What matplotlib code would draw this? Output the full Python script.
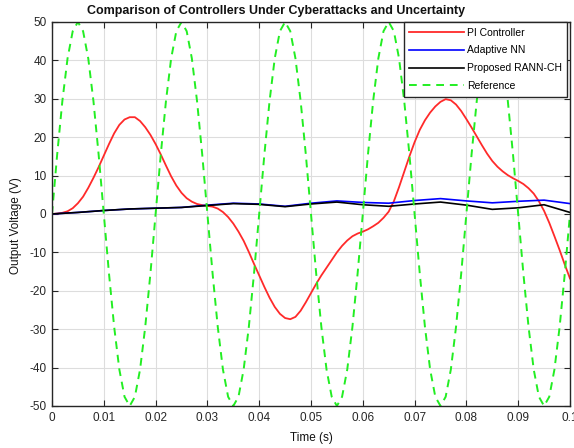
import matplotlib
matplotlib.use("Agg")
import matplotlib.pyplot as plt

plt.rcParams['font.family'] = ['Liberation Sans', 'DejaVu Sans']
plt.rcParams['axes.unicode_minus'] = False

# PI controller, sampled every 1 ms
t_pi = [i * 0.001 for i in range(101)]
pi_vals = [0, 0.1, 0.3, 0.7, 1.5, 2.8, 4.5, 6.8, 9.4, 12.2,
           15.2, 18.2, 21.0, 23.2, 24.6, 25.2, 25.2, 24.2, 22.6, 20.6,
           18.2, 15.5, 12.6, 9.8, 7.4, 5.5, 4.1, 3.2, 2.6, 2.3,
           2.1, 1.9, 1.4, 0.5, -0.8, -2.5, -4.6, -7.0, -9.9, -13.0,
           -16.0, -19.0, -21.8, -24.2, -26.0, -27.1, -27.4, -26.8, -25.2, -23.0,
           -20.6, -18.2, -16.0, -14.0, -12.0, -10.0, -8.3, -6.9, -5.8, -5.1,
           -4.6, -4.0, -3.2, -2.3, -1.0, 0.6, 3.3, 7.0, 11.0, 15.0,
           18.7, 21.9, 24.4, 26.4, 28.0, 29.2, 29.9, 29.6, 28.5, 26.8,
           24.7, 22.5, 20.2, 17.9, 15.7, 13.8, 12.3, 11.1, 10.1, 9.3,
           8.6, 7.8, 6.7, 5.3, 3.3, 0.8, -2.3, -5.8, -9.4, -13.2,
           -16.8]

# Adaptive NN and proposed RANN-CH, sampled every 5 ms
t_nn = [i * 0.005 for i in range(21)]
nn_vals = [0, 0.4, 0.9, 1.3, 1.5, 1.7, 2.3, 2.8, 2.6, 2.0,
           2.8, 3.4, 3.0, 2.8, 3.5, 4.0, 3.4, 2.9, 3.3, 3.6, 2.7]
rann_vals = [0, 0.4, 0.9, 1.3, 1.5, 1.7, 2.2, 2.7, 2.5, 1.9,
             2.6, 3.1, 2.4, 2.0, 2.6, 3.1, 2.3, 1.2, 1.6, 2.4, 0.4]

# Reference, sampled every 1 ms
t_ref = [i * 0.001 for i in range(101)]
ref_vals = [0, 15.5, 29.4, 40.5, 47.6, 50, 47.6, 40.5, 29.4, 15.5, 0, -15.5, -29.4, -40.5, -47.6, -50, -47.6, -40.5, -29.4, -15.5,
            0, 15.5, 29.4, 40.5, 47.6, 50, 47.6, 40.5, 29.4, 15.5, 0, -15.5, -29.4, -40.5, -47.6, -50, -47.6, -40.5, -29.4, -15.5,
            0, 15.5, 29.4, 40.5, 47.6, 50, 47.6, 40.5, 29.4, 15.5, 0, -15.5, -29.4, -40.5, -47.6, -50, -47.6, -40.5, -29.4, -15.5,
            0, 15.5, 29.4, 40.5, 47.6, 50, 47.6, 40.5, 29.4, 15.5, 0, -15.5, -29.4, -40.5, -47.6, -50, -47.6, -40.5, -29.4, -15.5,
            0, 15.5, 29.4, 40.5, 47.6, 50, 47.6, 40.5, 29.4, 15.5, 0, -15.5, -29.4, -40.5, -47.6, -50, -47.6, -40.5, -29.4, -15.5,
            0]

x_ticks = [0, 0.01, 0.02, 0.03, 0.04, 0.05, 0.06, 0.07, 0.08, 0.09, 0.1]
x_tick_labels = ['0', '0.01', '0.02', '0.03', '0.04', '0.05', '0.06', '0.07', '0.08', '0.09', '0.1']
y_ticks = [-50, -40, -30, -20, -10, 0, 10, 20, 30, 40, 50]

fig = plt.figure(figsize=(5.74, 4.48), dpi=100)
ax = fig.add_axes([0.0906, 0.0938, 0.9024, 0.8572])

ax.plot(t_pi, pi_vals, color='#ff2a2a', lw=1.3, label='PI Controller')
ax.plot(t_nn, nn_vals, color='#0000ff', lw=1.2, label='Adaptive NN')
ax.plot(t_nn, rann_vals, color='black', lw=1.2, label='Proposed RANN-CH')
ax.plot(t_ref, ref_vals, color='#22ee22', lw=1.4, ls=(0, (4, 3)), label='Reference')

ax.set_xlim(0, 0.1)
ax.set_ylim(-50, 50)
ax.set_xticks(x_ticks)
ax.set_xticklabels(x_tick_labels)
ax.set_yticks(y_ticks)
ax.grid(True, color='#dddddd', lw=0.8)
ax.set_axisbelow(True)
ax.tick_params(direction='in', top=True, right=True, labelsize=8.5, length=4,
               width=0.8, colors='#262626', pad=4)
for s in ax.spines.values():
    s.set_color('#262626')
    s.set_linewidth(1.0)

fig.text(276 / 574, 1 - 11 / 448,
         'Comparison of Controllers Under Cyberattacks and Uncertainty',
         fontsize=9, fontweight='bold', ha='center', va='center', color='#111111')
ax.set_xlabel('Time (s)', fontsize=8.5, labelpad=6, color='#111111')
ax.set_ylabel('Output Voltage (V)', fontsize=8.5, color='#111111')
ax.yaxis.set_label_coords(-0.057, 0.471)

leg = ax.legend(loc='upper right', bbox_to_anchor=(0.995, 1.0), fontsize=7.5,
                frameon=True, fancybox=False, borderaxespad=0.0,
                handlelength=5.2, labelspacing=0.75, borderpad=0.55,
                handletextpad=0.3)
leg.get_frame().set_edgecolor('#262626')
leg.get_frame().set_linewidth(1.0)
leg.get_frame().set_alpha(1.0)

fig.savefig('out.png', dpi=100)
